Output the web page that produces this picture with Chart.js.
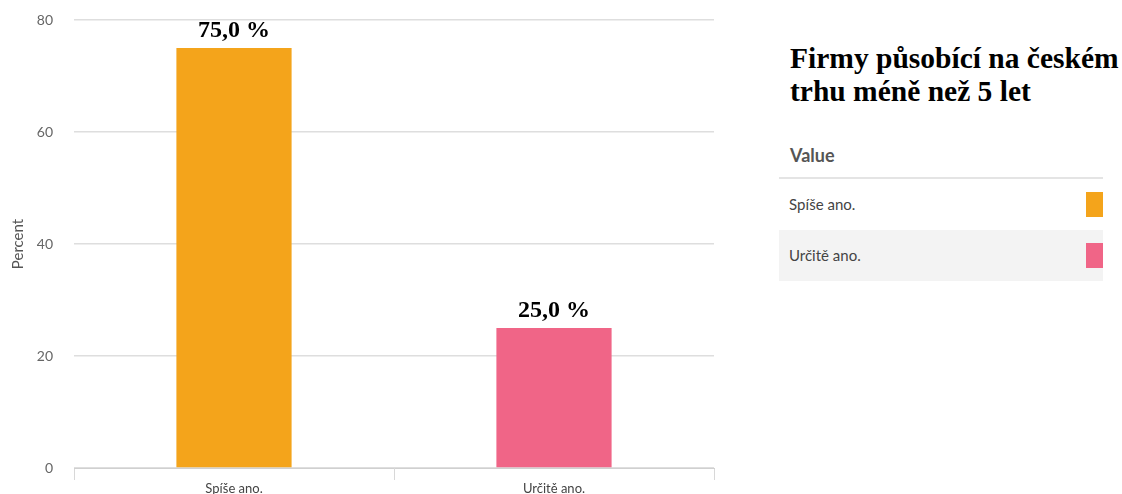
<!DOCTYPE html>
<html>
<head>
<meta charset="utf-8">
<script src="https://cdn.jsdelivr.net/npm/chart.js@4/dist/chart.umd.min.js"></script>
<style>
  html, body { margin: 0; padding: 0; background: #fff; width: 1122px; height: 494px; overflow: hidden; }
  #wrap { position: absolute; left: 0; top: 0; width: 730px; height: 494px; }
  #title { position: absolute; left: 790px; top: 42px; font-family: "Liberation Serif", "Times New Roman", serif; font-weight: bold; font-size: 29.5px; line-height: 33px; color: #000; white-space: nowrap; }
  #legend { position: absolute; left: 779px; top: 140px; width: 324px; font-family: Lato, sans-serif; }
  #legend .head { font-weight: bold; font-size: 18px; color: #555; padding-left: 11px; height: 37px; line-height: 30px; border-bottom: 2px solid #e4e4e4; }
  #legend .row { position: relative; height: 51px; line-height: 51px; font-size: 15px; color: #444; padding-left: 10px; }
  #legend .row.alt { background: #f3f3f3; }
  #legend .sw { position: absolute; right: 0; top: 13px; width: 17px; height: 25px; }
</style>
</head>
<body>
<div id="wrap"><canvas id="c" width="730" height="494"></canvas></div>
<div id="title">Firmy působící na českém<br>trhu méně než 5 let</div>
<div id="legend"></div>
<script>
const categories = ["Spíše ano.", "Určitě ano."];
const values = [75.0, 25.0];
const colors = ["#F4A41B", "#F06587"];
const yTicks = [0, 20, 40, 60, 80];
const yTitle = "Percent";
const legendHeader = "Value";

// legend table
const lg = document.getElementById('legend');
let html = '<div class="head">' + legendHeader + '</div>';
categories.forEach((c, i) => {
  html += '<div class="row' + (i % 2 ? ' alt' : '') + '">' + c +
    '<span class="sw" style="background:' + colors[i] + '"></span></div>';
});
lg.innerHTML = html;

const dataLabels = {
  id: 'dataLabels',
  afterDatasetsDraw(chart) {
    const ctx = chart.ctx;
    const meta = chart.getDatasetMeta(0);
    ctx.save();
    ctx.font = 'bold 24px "Liberation Serif", "Times New Roman", serif';
    ctx.fillStyle = '#000';
    ctx.textAlign = 'center';
    ctx.textBaseline = 'alphabetic';
    meta.data.forEach((bar, i) => {
      const txt = values[i].toFixed(1).replace('.', ',') + ' %';
      ctx.fillText(txt, bar.x, bar.y - 11);
    });
    ctx.restore();
  }
};

new Chart(document.getElementById('c'), {
  type: 'bar',
  data: {
    labels: categories,
    datasets: [{
      data: values,
      backgroundColor: colors,
      borderWidth: 0,
      barPercentage: 0.36,
      categoryPercentage: 1.0
    }]
  },
  options: {
    responsive: false,
    animation: false,
    layout: { padding: { top: 20, right: 16, left: 0, bottom: 0 } },
    plugins: { legend: { display: false }, tooltip: { enabled: false } },
    scales: {
      x: {
        offset: true,
        grid: { display: true, drawOnChartArea: false, drawTicks: true, tickLength: 12, color: '#d8d8d8', offset: true },
        border: { display: true, color: '#d0d0d0', width: 1 },
        ticks: { font: { family: 'Lato', size: 13 }, color: '#444', padding: 1 },
        afterFit(scale) { scale.height = 26; }
      },
      y: {
        min: 0, max: 80,
        afterBuildTicks(scale) { scale.ticks = yTicks.map(v => ({ value: v })); },
        grid: { color: '#dedede', lineWidth: 1.5, drawTicks: true, tickLength: 21, tickColor: 'rgba(0,0,0,0)' },
        border: { display: false },
        ticks: { font: { family: 'Lato', size: 14 }, color: '#666', padding: 0 },
        title: { display: true, text: yTitle, font: { family: 'Lato', size: 15 }, color: '#555', padding: { top: 9, bottom: 0 } },
        afterFit(scale) { scale.width = 74; }
      }
    }
  },
  plugins: [dataLabels]
});
</script>
</body>
</html>
